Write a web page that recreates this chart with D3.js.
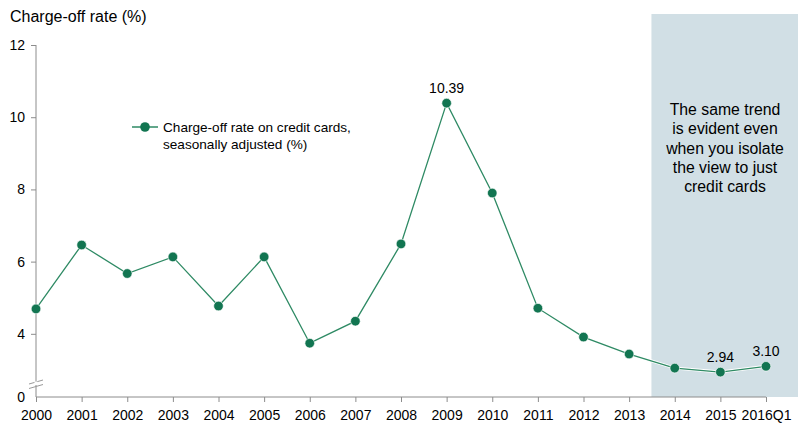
<!DOCTYPE html>
<html>
<head>
<meta charset="utf-8">
<script src="https://cdn.jsdelivr.net/npm/d3@7"></script>
<style>
  body { margin: 0; background: #fff; }
  text { font-family: "Liberation Sans", Arial, sans-serif; }
</style>
</head>
<body>
<div id="chart"></div>
<script>
// Data
const years = ["2000", "2001", "2002", "2003", "2004", "2005", "2006", "2007", "2008",
  "2009", "2010", "2011", "2012", "2013", "2014", "2015", "2016Q1"];
const rates = [4.69, 6.46, 5.67, 6.13, 4.77, 6.13, 3.74, 4.35, 6.49,
  10.39, 7.90, 4.71, 3.91, 3.44, 3.05, 2.94, 3.10];
const labelled = ["2009", "2015", "2016Q1"];
const yTicks = [4, 6, 8, 10, 12];
const highlightFrom = "2014";
const noteLines = ["The same trend", "is evident even", "when you isolate", "the view to just", "credit cards"];
const legendLines = ["Charge-off rate on credit cards,", "seasonally adjusted (%)"];

const width = 800, height = 427;
const plotLeft = 36, plotRight = 766, plotTop = 45, plotBottom = 397;

const svg = d3.select("#chart").append("svg")
  .attr("width", width)
  .attr("height", height);

const x = d3.scalePoint().domain(years).range([plotLeft, plotRight]);
const y = d3.scaleLinear().domain([2.25, 12]).range([plotBottom, plotTop]);

// Highlight box
const boxX = x(highlightFrom) - x.step() / 2 - 0.5;
svg.append("rect")
  .attr("x", boxX)
  .attr("y", 14)
  .attr("width", 798 - boxX)
  .attr("height", plotBottom - 14)
  .attr("fill", "#d1dfe5");

noteLines.forEach((t, i) => {
  svg.append("text")
    .attr("x", 725)
    .attr("y", 115 + i * 19.3)
    .attr("text-anchor", "middle")
    .attr("font-size", "15.8px")
    .attr("fill", "#000")
    .text(t);
});

// Title
svg.append("text")
  .attr("x", 10)
  .attr("y", 22)
  .attr("font-size", "16px")
  .attr("fill", "#000")
  .text("Charge-off rate (%)");

const axisColor = "#8c8c8c";

// Y axis
const yAxis = svg.append("g")
  .attr("transform", `translate(${plotLeft},0)`)
  .call(d3.axisLeft(y).tickValues(yTicks).tickSize(5).tickSizeOuter(0).tickPadding(6));
yAxis.select(".domain").attr("stroke", axisColor).attr("d", `M0,${plotTop}V${plotBottom}`);
yAxis.selectAll(".tick line").attr("stroke", axisColor);
yAxis.selectAll(".tick text").attr("font-size", "14px").attr("fill", "#000")
  .attr("font-family", "Liberation Sans, Arial, sans-serif");

// "0" label at the broken base
svg.append("text")
  .attr("x", plotLeft - 11)
  .attr("y", plotBottom + 5)
  .attr("text-anchor", "end")
  .attr("font-size", "14px")
  .text("0");

// Axis break marks
[0, 4.5].forEach(d => {
  svg.append("line")
    .attr("x1", plotLeft - 7).attr("x2", plotLeft + 7)
    .attr("y1", 384 + d).attr("y2", 380 + d)
    .attr("stroke", "#9a9a9a")
    .attr("stroke-width", 1);
});
svg.append("rect")
  .attr("x", plotLeft - 1.5).attr("y", 381.5)
  .attr("width", 3).attr("height", 3.5)
  .attr("fill", "#fff");

// X axis
const xAxis = svg.append("g")
  .attr("transform", `translate(0,${plotBottom})`)
  .call(d3.axisBottom(x).tickSize(5).tickSizeOuter(0).tickPadding(8));
xAxis.select(".domain").attr("stroke", axisColor).attr("d", `M${plotLeft},0H${plotRight}`);
xAxis.selectAll(".tick line").attr("stroke", axisColor);
xAxis.selectAll(".tick text").attr("font-size", "14px").attr("fill", "#000")
  .attr("font-family", "Liberation Sans, Arial, sans-serif");

// Line
const series = years.map((yr, i) => ({ year: yr, value: rates[i] }));
const line = d3.line().x(d => x(d.year)).y(d => y(d.value));

svg.append("path")
  .datum(series)
  .attr("d", line)
  .attr("fill", "none")
  .attr("stroke", "#fff")
  .attr("stroke-width", 3);
svg.append("path")
  .datum(series)
  .attr("d", line)
  .attr("fill", "none")
  .attr("stroke", "#2e8a64")
  .attr("stroke-width", 1.3);

svg.selectAll(".marker")
  .data(series)
  .enter()
  .append("circle")
  .attr("class", "marker")
  .attr("cx", d => x(d.year))
  .attr("cy", d => y(d.value))
  .attr("r", 4.8)
  .attr("fill", "#127551")
  .attr("stroke", "#fff")
  .attr("stroke-width", 0.6);

// Data labels
svg.selectAll(".dlabel")
  .data(series.filter(d => labelled.includes(d.year)))
  .enter()
  .append("text")
  .attr("class", "dlabel")
  .attr("x", d => x(d.year))
  .attr("y", d => y(d.value) - 10)
  .attr("text-anchor", "middle")
  .attr("font-size", "14px")
  .attr("fill", "#000")
  .text(d => d.value.toFixed(2));

// Legend
const lg = svg.append("g").attr("transform", "translate(132,127)");
lg.append("line").attr("x1", 0).attr("x2", 26).attr("y1", 0).attr("y2", 0)
  .attr("stroke", "#2e8a64").attr("stroke-width", 1.5);
lg.append("circle").attr("cx", 13).attr("cy", 0).attr("r", 4.8).attr("fill", "#127551");
legendLines.forEach((t, i) => {
  lg.append("text")
    .attr("x", 31)
    .attr("y", 5 + i * 17)
    .attr("font-size", "13.6px")
    .attr("fill", "#000")
    .text(t);
});
</script>
</body>
</html>
